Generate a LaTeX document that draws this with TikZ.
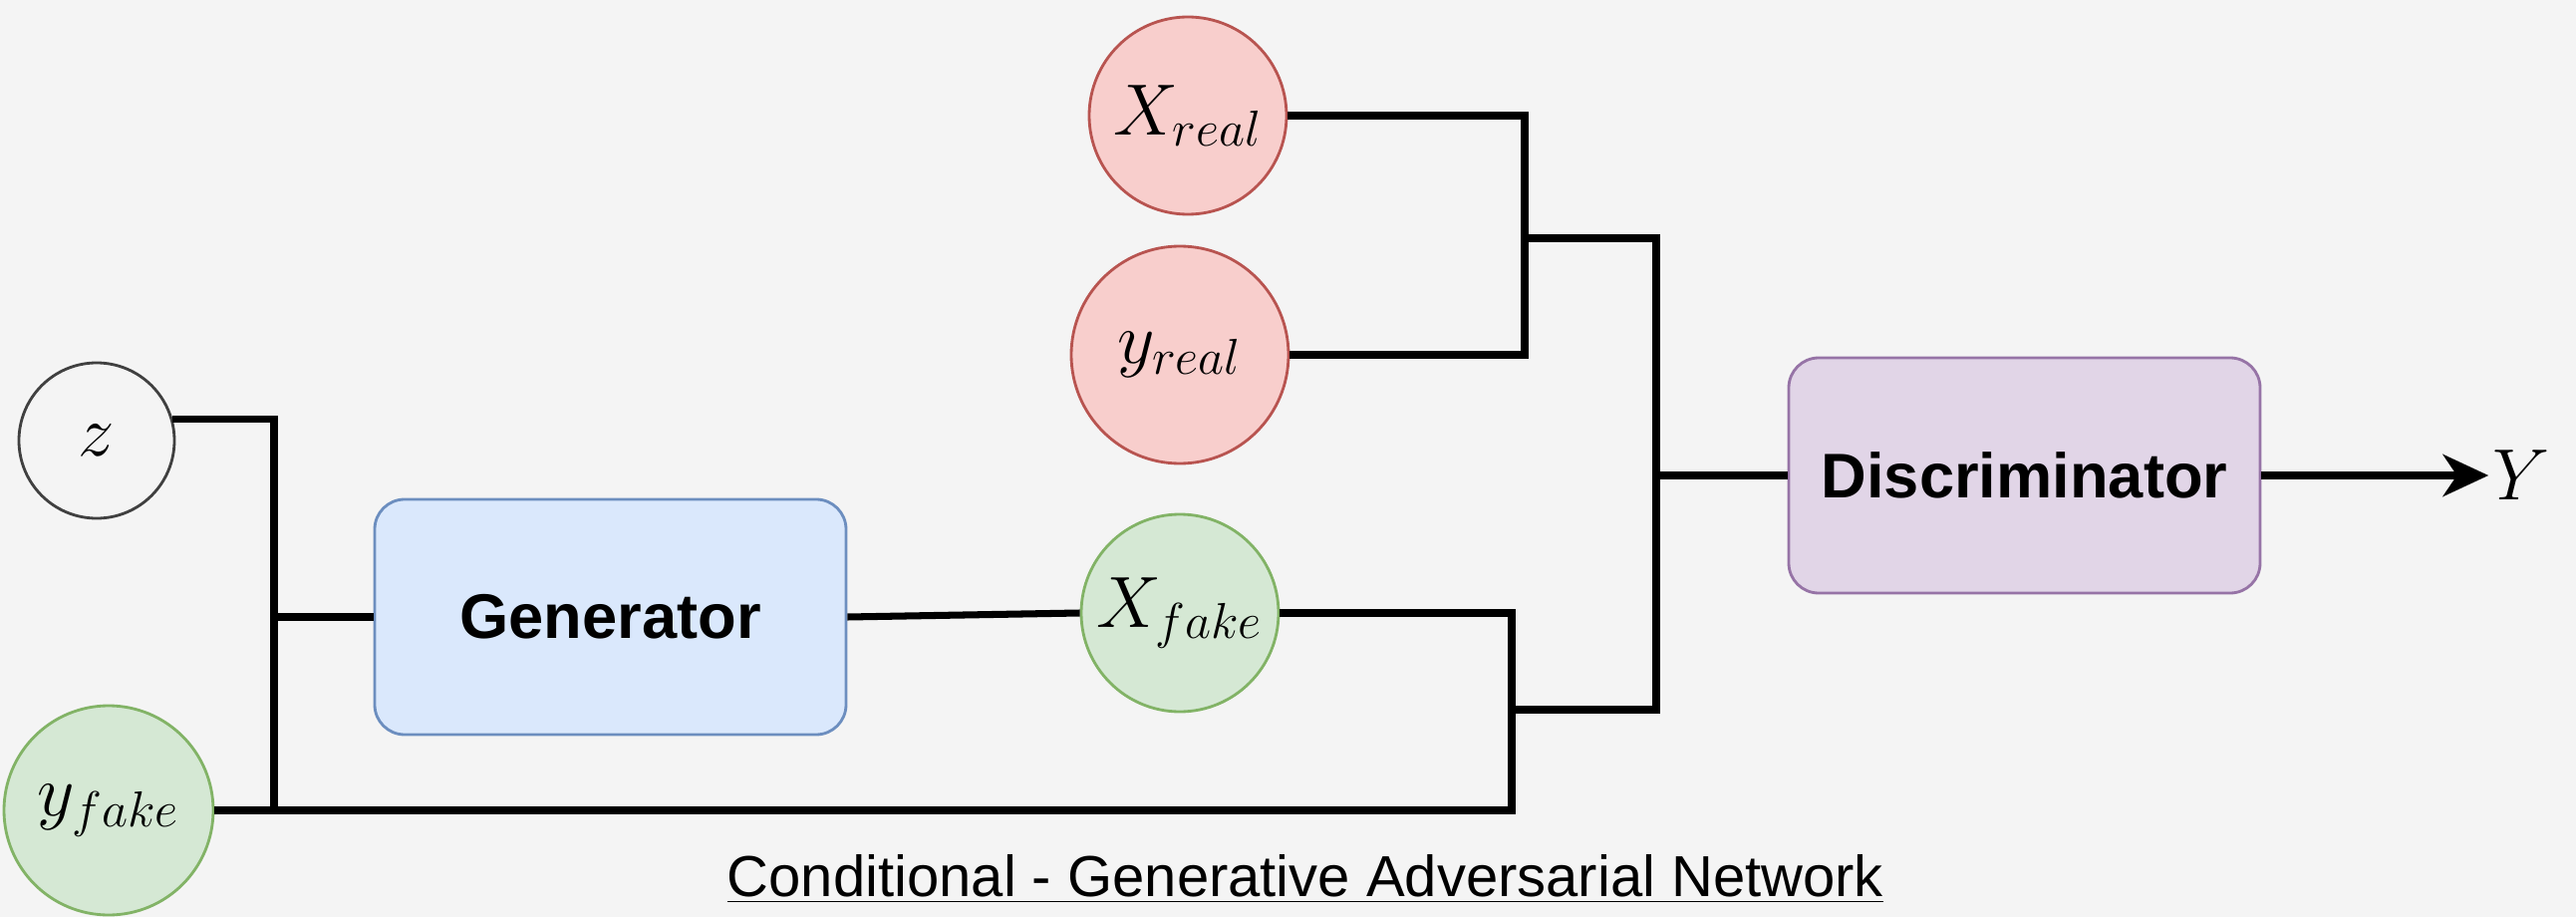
\documentclass[tikz,border=0pt]{standalone}
\usepackage{fontspec}
\setsansfont{Liberation Sans}
\usetikzlibrary{arrows.meta}
\definecolor{bg}{HTML}{F4F4F4}
\definecolor{bluefill}{HTML}{DAE8FC}\definecolor{blueline}{HTML}{6C8EBF}
\definecolor{greenfill}{HTML}{D5E8D4}\definecolor{greenline}{HTML}{82B366}
\definecolor{redfill}{HTML}{F8CECC}\definecolor{redline}{HTML}{B85450}
\definecolor{purplefill}{HTML}{E1D5E7}\definecolor{purpleline}{HTML}{9673A6}
\newcommand{\lbl}{\fontsize{21}{25}\selectfont}

\begin{document}
\begin{tikzpicture}[var/.style={circle,draw,line width=0.8pt,inner sep=0pt,font=\lbl},
	block/.style={rectangle,rounded corners=0.3cm,draw,line width=0.8pt,minimum width=4.73cm,
	minimum height=2.36cm,font=\sffamily\bfseries\fontsize{18}{22}\selectfont},
	wire/.style={line width=2pt}]
\fill[bg] (0,0) rectangle (25.85,9.2);
\useasboundingbox (0,0) rectangle (25.85,9.2);
\node[var, fill=bg, draw=black!75, minimum size=1.56cm] (z) at (0.97,4.78) {$z$};
\node[var, fill=greenfill, draw=greenline, minimum size=2.1cm] (yfake) at (1.09,1.07) {$y_{fake}$};
\node[block, fill=bluefill, draw=blueline] (gen) at (6.125,3.01) {Generator};
\node[var, fill=greenfill, draw=greenline, minimum size=1.98cm] (xfake) at (11.84,3.05) {$X_{fake}$};
\node[var, fill=redfill, draw=redline, minimum size=1.98cm] (xreal) at (11.92,8.04) {$X_{real}$};
\node[var, fill=redfill, draw=redline, minimum size=2.18cm] (yreal) at (11.84,5.64) {$y_{real}$};
\node[block, fill=purplefill, draw=purpleline] (disc) at (20.315,4.43) {Discriminator};
\node[font=\lbl, inner sep=1pt] (Y) at (25.30,4.43) {$Y$};
\node[font=\sffamily\fontsize{16.5}{20}\selectfont] (cgan) at (13.10,0.38)
	{\underline{Conditional - Generative Adversarial Network}};
\coordinate (gj) at (2.75,3.01);
\coordinate (fj) at (15.17,2.08);
\coordinate (rj) at (15.30,6.81);
\coordinate (dj) at (16.62,4.43);
% generator side
\draw[wire] (z.16) -| (gj |- yfake.east);
\draw[wire] (gj) -- (gen.west);
\draw[wire] (gen.east) -- (xfake.west);
% into the discriminator
\draw[wire] (xfake.east) -| (fj);
\draw[wire] (yfake.east) -| (fj);
\draw[wire] (fj) -| (dj);
\draw[wire] (xreal.east) -| (rj);
\draw[wire] (yreal.east) -| (rj);
\draw[wire] (rj) -| (dj);
\draw[wire] (dj) -- (disc.west);
\draw[wire, -{Stealth[length=13pt,width=12pt,inset=4pt]}] (disc.east) -- (Y.west);
\end{tikzpicture}
\end{document}
